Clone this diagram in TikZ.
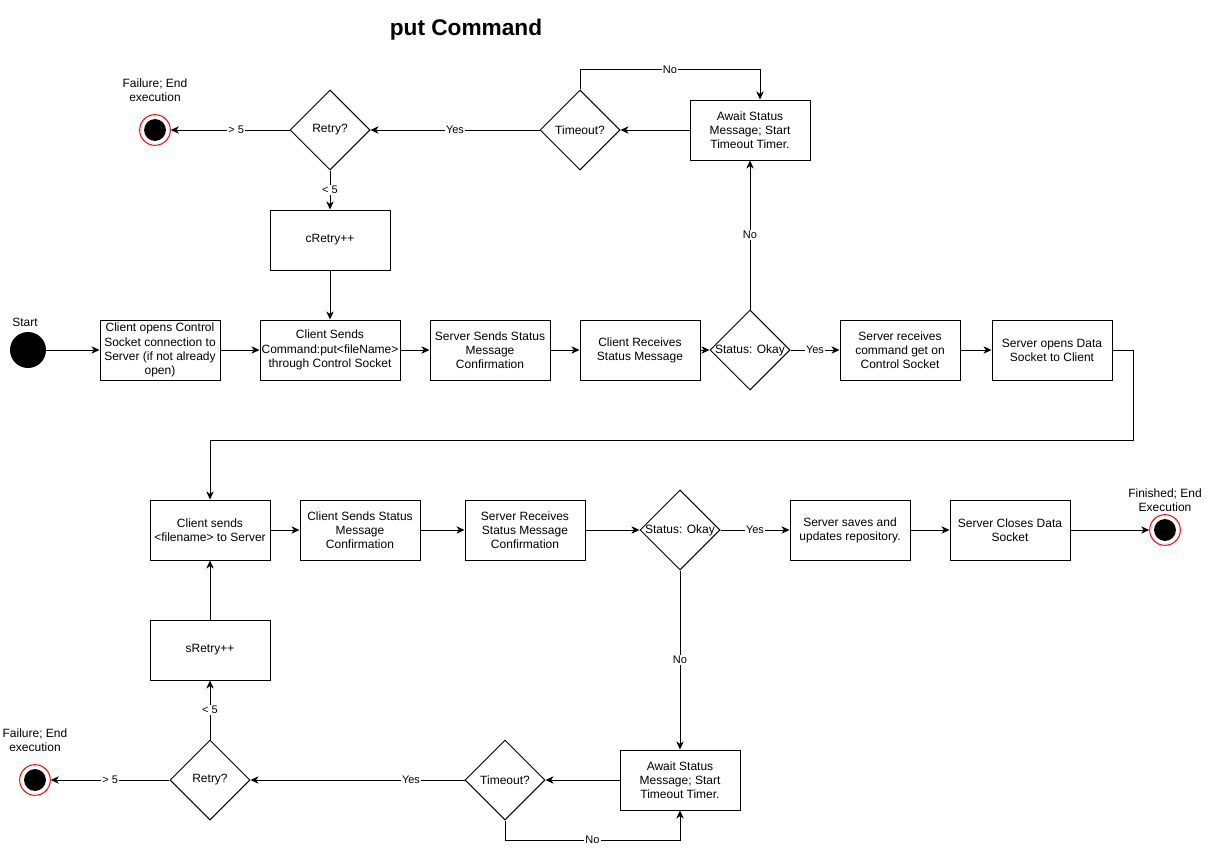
\documentclass[tikz,border=0pt]{standalone}
\usepackage{fontspec}
\setmainfont{Liberation Sans}
\usetikzlibrary{shapes.geometric,arrows.meta,calc}
\begin{document}
\begin{tikzpicture}[x=0.75pt,y=-0.75pt,
  every node/.style={font=\fontsize{9}{10.6}\selectfont},
  box/.style={draw,line width=0.75pt,minimum width=90pt,minimum height=45pt,align=center,inner sep=1pt,fill=white},
  dec/.style={draw,diamond,aspect=1,line width=0.75pt,minimum width=60pt,minimum height=60pt,inner sep=0pt,fill=white},
  lbl/.style={fill=white,inner sep=1pt,font=\fontsize{8.25}{9}\selectfont},
  arr/.style={line width=0.75pt,-{Stealth[length=6pt,width=5.5pt,inset=1.8pt]}},
  ln/.style={line width=0.75pt},
  endst/.style={circle,draw=red,line width=0.75pt,fill=white,minimum size=23pt,inner sep=0pt,
    path picture={\fill[black] (path picture bounding box.center) circle (8.2pt);}},
  startst/.style={circle,fill=black,minimum size=27pt,inner sep=0pt},
  txt/.style={align=center,inner sep=0pt}
]
\useasboundingbox (0,0) rectangle (1206,849);
\fill[white] (0,0) rectangle (1206,849);

\node[font=\fontsize{17}{20}\selectfont\bfseries] (title) at (466,30) {put Command};

% top area
\node[endst] (f1) at (155,130) {};
\node[txt] (f1t) at (155,90) {Failure; End\\execution};
\node[dec,label=center:Retry?] (r1) at (330,130) {};
\node[dec,label=center:Timeout?] (to1) at (580,130) {};
\node[box] (aw1) at (750,130) {Await Status\\Message; Start\\Timeout Timer.};
\node[box] (cr) at (330,240) {cRetry++};

% row 2
\node[startst] (st) at (28,350) {};
\node[txt] (stt) at (25,322) {Start};
\node[box] (b1) at (160,350) {Client opens Control\\Socket connection to\\Server (if not already\\open)};
\node[box,minimum width=105pt] (b2) at (330,350) {Client Sends\\Command:put<fileName>\\through Control Socket};
\node[box] (b3) at (490,350) {Server Sends Status\\Message\\Confirmation};
\node[box] (b4) at (640,350) {Client Receives\\Status Message};
\node[dec,label=center:{Status: Okay}] (d1) at (750,350) {};
\node[box] (b5) at (900,350) {Server receives\\command get on\\Control Socket};
\node[box] (b6) at (1052,350) {Server opens Data\\Socket to Client};

% row 3
\node[box] (c1) at (210,530) {Client sends\\<filename> to Server};
\node[box] (c2) at (360,530) {Client Sends Status\\Message\\Confirmation};
\node[box] (c3) at (525,530) {Server Receives\\Status Message\\Confirmation};
\node[dec,label=center:{Status: Okay}] (d2) at (680,530) {};
\node[box] (c4) at (850,530) {Server saves and\\updates repository.};
\node[box] (c5) at (1010,530) {Server Closes Data\\Socket};
\node[endst] (fin) at (1165,530) {};
\node[txt] (fint) at (1165,500) {Finished; End\\Execution};

% row 4
\node[box] (sr) at (210,650) {sRetry++};
\node[dec,label=center:Retry?] (r2) at (210,780) {};
\node[endst] (f2) at (35,780) {};
\node[txt] (f2t) at (35,740) {Failure; End\\execution};
\node[dec,label=center:Timeout?] (to2) at (505,780) {};
\node[box] (aw2) at (680,780) {Await Status\\Message; Start\\Timeout Timer.};

\coordinate (k1) at (1133,440);
\coordinate (k2) at (580,70);
\coordinate (k3) at (760,70);
\coordinate (k4) at (505,840);
\coordinate (k5) at (680,840);

% edges row 2
\draw[arr] (st) -- (b1);
\draw[arr] (b1) -- (b2);
\draw[arr] (b2) -- (b3);
\draw[arr] (b3) -- (b4);
\draw[arr] (b4) -- (d1);
\draw[arr] (d1) -- node[lbl]{Yes} (b5);
\draw[arr] (b5) -- (b6);
\draw[arr] (b6.east) -| (k1) -| (c1.north);
\draw[arr] (d1.north) -- node[lbl]{No} (aw1.south);

% top edges
\draw[arr] (aw1) -- (to1);
\draw[arr] (to1.north) -- (k2) -- node[lbl]{No} (k3) -- (k3 |- aw1.north);
\draw[arr] (to1) -- node[lbl]{Yes} (r1);
\draw[arr] (r1) -- node[lbl,pos=0.45]{> 5} (f1);
\draw[arr] (r1) -- node[lbl]{< 5} (cr);
\draw[arr] (cr) -- (b2);

% row 3 edges
\draw[arr] (c1) -- (c2);
\draw[arr] (c2) -- (c3);
\draw[arr] (c3) -- (d2);
\draw[arr] (d2) -- node[lbl]{Yes} (c4);
\draw[arr] (c4) -- (c5);
\draw[arr] (c5) -- (fin);
\draw[arr] (d2) -- node[lbl]{No} (aw2);

% row 4 edges
\draw[arr] (aw2) -- (to2);
\draw[arr] (to2.south) -- (k4) -- node[lbl]{No} (k5) -- (aw2.south);
\draw[arr] (to2) -- node[lbl,pos=0.25]{Yes} (r2);
\draw[arr] (r2) -- node[lbl]{> 5} (f2);
\draw[arr] (r2) -- node[lbl]{< 5} (sr);
\draw[arr] (sr) -- (c1);
\end{tikzpicture}
\end{document}
